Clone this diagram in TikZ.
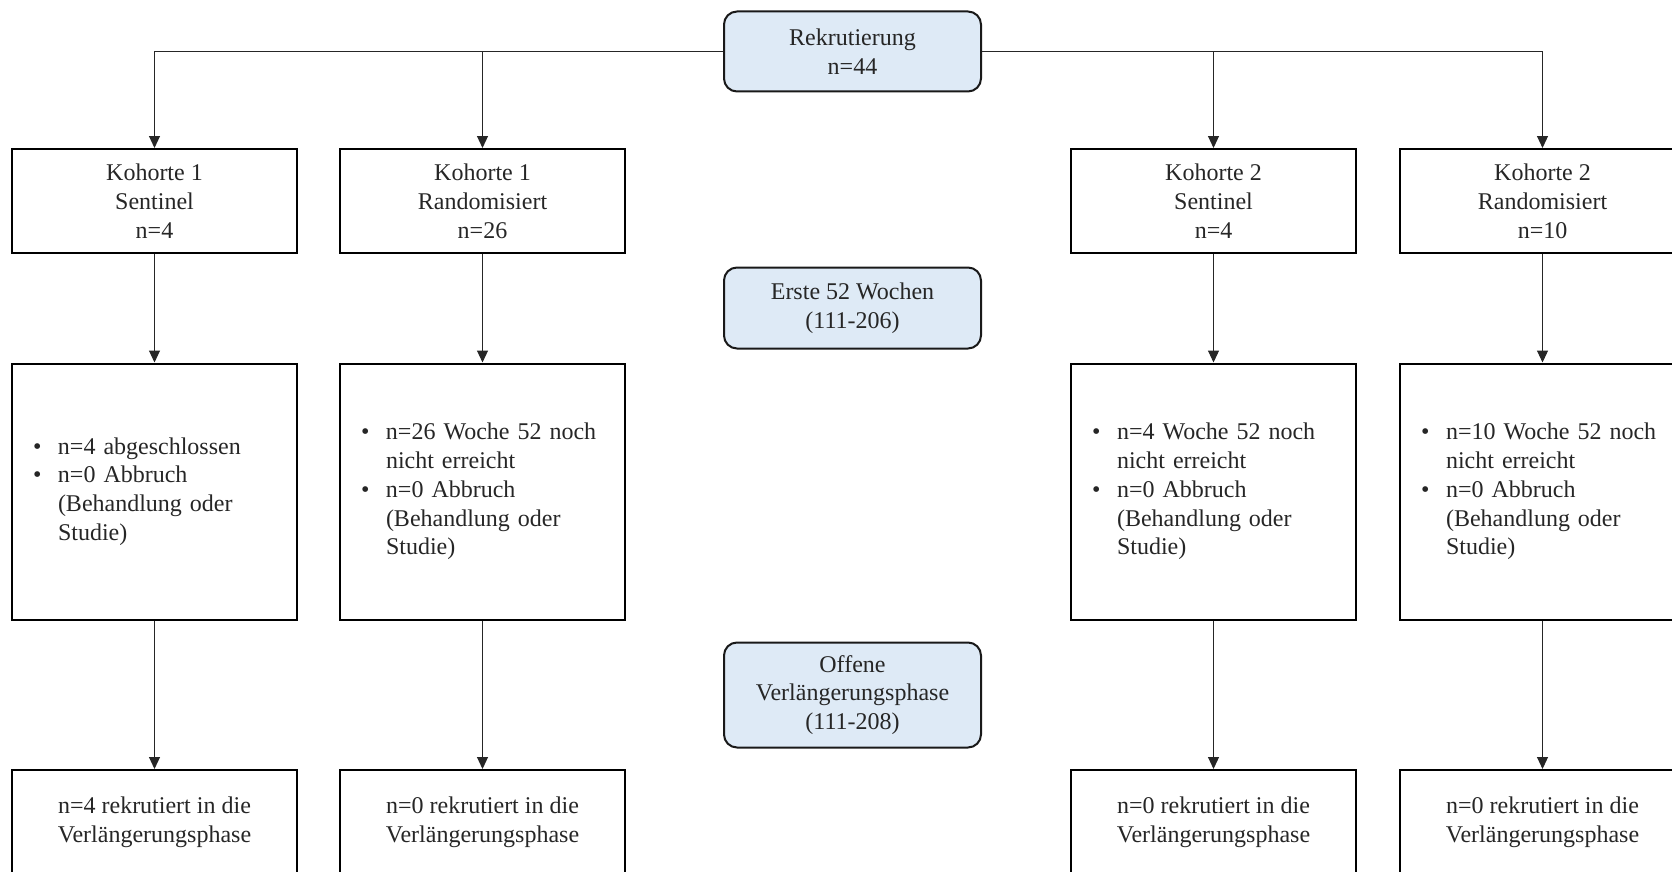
\documentclass[tikz,border=0pt]{standalone}
\usepackage{fontspec}
\setmainfont{Liberation Serif}
\usetikzlibrary{arrows.meta}
\definecolor{phasefill}{RGB}{222,234,246}
\begin{document}
\begin{tikzpicture}[x=1pt,y=-1pt,
  every node/.style={font=\fontsize{24}{28.8}\selectfont, text=black!85},
  cbox/.style={draw=black, line width=2pt, minimum width=285pt, minimum height=104pt,
    inner sep=0pt, align=center},
  lbox/.style={draw=black, line width=2pt, minimum width=285pt, minimum height=256pt,
    inner xsep=21pt, inner ysep=0pt, text width=243pt, align=left},
  phase/.style={draw=black!90, fill=phasefill, line width=2pt, rounded corners=13pt,
    minimum width=257pt, inner sep=0pt, align=center},
  conn/.style={line width=1.1pt, draw=black!85, -{Triangle[length=12pt,width=11pt]}}
]
\useasboundingbox (0,0) rectangle (1672,872);
\newcommand{\bul}{\makebox[25pt][l]{\textbullet}}
\newcommand{\ind}{\hspace*{25pt}}

% phase labels in the middle column
\node[phase, minimum height=80pt]  (rek) at (852.5,51.5) {Rekrutierung\\n=44};
\node[phase, minimum height=81pt]  (erste) at (852.5,308) {Erste 52 Wochen\\(111-206)};
\node[phase, minimum height=105pt] (offen) at (852.5,695) {Offene\\Verlängerungsphase\\(111-208)};

% cohort headers
\node[cbox] (k1s) at (154.5,201) {Kohorte 1\\Sentinel\\n=4};
\node[cbox] (k1r) at (482.5,201) {Kohorte 1\\Randomisiert\\n=26};
\node[cbox] (k2s) at (1213.5,201) {Kohorte 2\\Sentinel\\n=4};
\node[cbox] (k2r) at (1542.5,201) {Kohorte 2\\Randomisiert\\n=10};

% status after 52 weeks
\node[lbox] (w1s) at (154.5,491.5) {\bul n=4 abgeschlossen\\\bul n=0 Abbruch\\\ind(Behandlung oder\\\ind Studie)};
\node[lbox] (w1r) at (482.5,491.5) {\bul n=26 Woche 52 noch\\\ind nicht erreicht\\\bul n=0 Abbruch\\\ind(Behandlung oder\\\ind Studie)};
\node[lbox] (w2s) at (1213.5,491.5) {\bul n=4 Woche 52 noch\\\ind nicht erreicht\\\bul n=0 Abbruch\\\ind(Behandlung oder\\\ind Studie)};
\node[lbox] (w2r) at (1542.5,491.5) {\bul n=10 Woche 52 noch\\\ind nicht erreicht\\\bul n=0 Abbruch\\\ind(Behandlung oder\\\ind Studie)};

% extension phase
\node[cbox] (e1s) at (154.5,822) {n=4 rekrutiert in die\\Verlängerungsphase};
\node[cbox] (e1r) at (482.5,822) {n=0 rekrutiert in die\\Verlängerungsphase};
\node[cbox] (e2s) at (1213.5,822) {n=0 rekrutiert in die\\Verlängerungsphase};
\node[cbox] (e2r) at (1542.5,822) {n=0 rekrutiert in die\\Verlängerungsphase};

% connectors
\draw[conn] (rek.west) -| (k1s.north);
\draw[conn] (rek.west) -| (k1r.north);
\draw[conn] (rek.east) -| (k2s.north);
\draw[conn] (rek.east) -| (k2r.north);
\foreach \a/\b in {k1s/w1s,k1r/w1r,k2s/w2s,k2r/w2r,w1s/e1s,w1r/e1r,w2s/e2s,w2r/e2r}
  \draw[conn] (\a.south) -- (\b.north);
\end{tikzpicture}
\end{document}
